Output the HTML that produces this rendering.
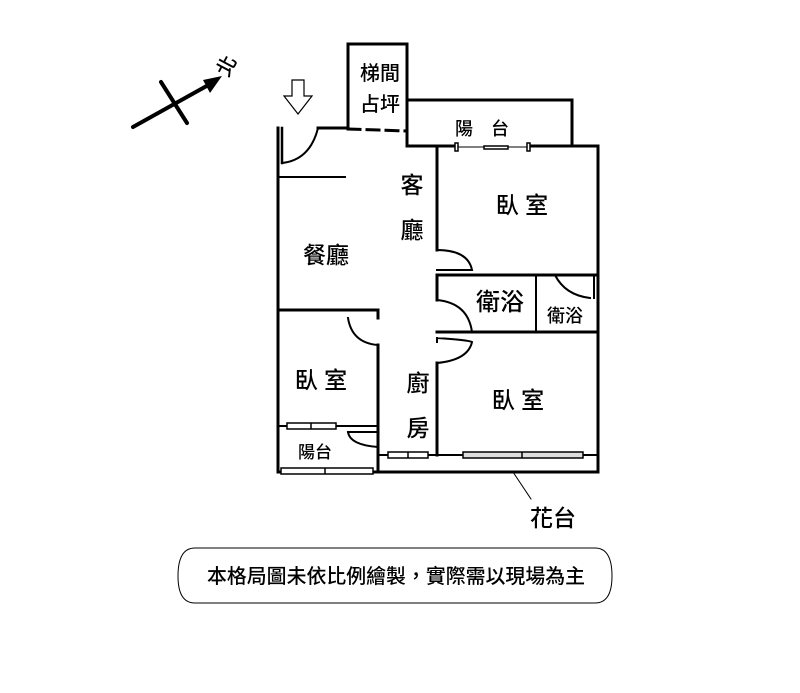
<!DOCTYPE html>
<html><head><meta charset="utf-8"><style>
body{margin:0;background:#fff;width:800px;height:688px;overflow:hidden}
svg text{font-family:"Liberation Sans","Noto Sans CJK TC",sans-serif;fill:#000;font-weight:500}
</style></head><body>
<svg width="800" height="688" viewBox="0 0 800 688" xmlns="http://www.w3.org/2000/svg">
<g stroke="#000" stroke-width="3" fill="none" stroke-linecap="square">
<path d="M348 128 V44 H407 V146"/>
<path d="M348 129 L407 131" stroke-dasharray="12 7"/>
<path d="M407 100 H572 V146"/>
<path d="M407 146 H455 M528 146 H598"/>
<path d="M278 128 V472"/>
<path d="M282 128 V163" stroke-width="2.5"/>
<path d="M282 163 Q310 160 318 128" stroke-width="2"/>
<path d="M318 128 H348"/>
<path d="M278 177 H345" stroke-width="2"/>
<path d="M437 146 V250"/>
<path d="M437 250 Q468 250 472 270 H437" stroke-width="2"/>
<path d="M598 146 V472"/>
<path d="M437 275 H598"/>
<path d="M437 275 V300"/>
<path d="M437 300 Q468 303 472 332" stroke-width="2"/>
<path d="M437 332 H598"/>
<path d="M536 275 V332" stroke-width="2"/>
<path d="M555 275 Q565 295 590 298" stroke-width="2"/>
<path d="M594 275 V298" stroke-width="2"/>
<path d="M437 338 Q468 340 472 342 Q468 360 437 363 M437 338 V342"  stroke-width="2"/>
<path d="M437 363 V455"/>
<path d="M278 310 H378 V318"/>
<path d="M348 318 Q352 343 378 345" stroke-width="2"/>
<path d="M378 345 V472"/>
<path d="M278 426 H378" stroke-width="2"/>
<path d="M348 432 Q350 445 378 447" stroke-width="2"/>
<path d="M348 432 H378" stroke-width="2"/>
<path d="M278 472 H598"/>
<path d="M378 455 H598" stroke-width="2"/>
<path d="M513 472 L531 499" stroke-width="1"/>
</g>
<g stroke="#000" stroke-width="1.5" fill="#fff">
<rect x="287" y="423" width="49" height="6"/><line x1="311" y1="423" x2="311" y2="429"/>
<rect x="281" y="468" width="92" height="6"/><line x1="325" y1="468" x2="325" y2="474"/>
<rect x="388" y="452" width="40" height="6"/><line x1="408" y1="452" x2="408" y2="458"/>
<rect x="463" y="452" width="120" height="6" fill="#ddd"/><line x1="522" y1="452" x2="522" y2="458"/>
<rect x="455" y="143" width="3" height="8"/><rect x="527" y="143" width="3" height="8"/>
<line x1="458" y1="147" x2="527" y2="147" stroke-width="1"/>
<rect x="484" y="146" width="24" height="3"/>
</g>
<g stroke="#000" stroke-width="4" stroke-linecap="round">
<line x1="133" y1="127" x2="212" y2="83"/>
<line x1="161" y1="82" x2="187" y2="123"/>
</g>
<polygon points="222,76 203,80 210,93" fill="#000"/>
<text x="0" y="0" font-size="20" transform="translate(228,78) rotate(-62)">北</text>
<polygon points="292,80 304,80 304,96 312,96 298,114 284,96 292,96" fill="#fff" stroke="#000" stroke-width="1.2"/>
<g font-size="20" text-anchor="middle">
<text x="380" y="80">梯間</text>
<text x="380" y="111">占坪</text>
<text x="482" y="135" font-size="18">陽　台</text>
<text x="412" y="193" font-size="23">客</text>
<text x="412" y="238" font-size="23">廳</text>
<text x="522" y="213" font-size="23">臥 室</text>
<text x="326" y="263" font-size="23">餐廳</text>
<text x="500" y="310" font-size="24">衛浴</text>
<text x="565" y="322" font-size="18">衛浴</text>
<text x="321" y="388" font-size="23">臥 室</text>
<text x="418" y="391" font-size="23">廚</text>
<text x="418" y="436" font-size="23">房</text>
<text x="518" y="408" font-size="23">臥 室</text>
<text x="315" y="458" font-size="17">陽台</text>
<text x="553" y="526" font-size="23">花台</text>
</g>
<path d="M195 548 H595 Q612 548 612 576 Q612 603 595 603 H195 Q178 603 178 576 Q178 548 195 548 Z" fill="#fff" stroke="#000" stroke-width="1"/>
<text x="396" y="583" font-size="20" text-anchor="middle" textLength="378" lengthAdjust="spacingAndGlyphs">本格局圖未依比例繪製，實際需以現場為主</text>
</svg>
</body></html>
